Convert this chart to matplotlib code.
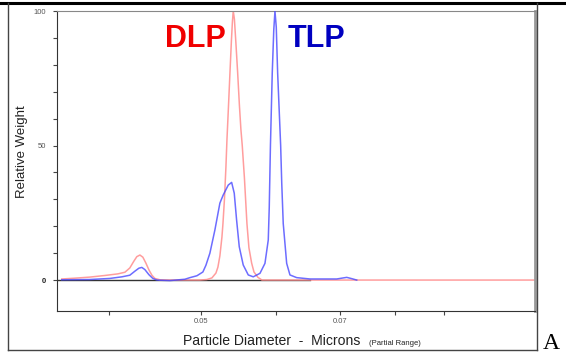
import matplotlib
matplotlib.use('Agg')
import matplotlib.pyplot as plt
from matplotlib.ticker import FixedLocator, FixedFormatter, NullLocator
from matplotlib.lines import Line2D

# particle diameter (microns) and relative weight
dlp_diam = [0.03571, 0.03685, 0.03822, 0.03963, 0.04090, 0.04160, 0.04210, 0.04251,
            0.04282, 0.04314, 0.04345, 0.04377, 0.04409, 0.04441, 0.04473, 0.04528,
            0.04638, 0.04988, 0.05073, 0.05135, 0.05185, 0.05210, 0.05235, 0.05261,
            0.05274, 0.05293, 0.05312, 0.05325, 0.05344, 0.05364, 0.05383, 0.05396,
            0.05407, 0.05422, 0.05442, 0.05465, 0.05488, 0.05508, 0.05526, 0.05555,
            0.05589, 0.05616, 0.05653, 0.05685, 0.05740, 0.05796, 0.1123]
dlp_weight = [0.4, 0.7, 1.1, 1.7, 2.3, 2.9, 4.5, 7.0,
              8.7, 9.3, 8.5, 6.3, 3.8, 1.8, 0.6, 0.1,
              0, 0, 0.2, 0.8, 2.6, 4.8, 9.0, 16,
              21, 30, 42, 52, 64, 77, 89, 96,
              100, 97, 88, 77, 65, 56, 50, 38,
              21, 12, 6.3, 3.0, 1.0, 0, 0]

tlp_diam = [0.03571, 0.03822, 0.04011, 0.04130, 0.04210, 0.04262, 0.04303, 0.04334,
            0.04366, 0.04409, 0.04451, 0.04495, 0.04638, 0.04810, 0.04869, 0.04952,
            0.05024, 0.05061, 0.05110, 0.05172, 0.05235, 0.05277, 0.05342, 0.05386,
            0.05420, 0.05451, 0.05486, 0.05539, 0.05607, 0.05675, 0.05768, 0.05838,
            0.05885, 0.05899, 0.05916, 0.05942, 0.05964, 0.05981, 0.06000, 0.06020,
            0.06064, 0.06080, 0.06102, 0.06153, 0.06202, 0.06304, 0.0651, 0.06945,
            0.07115, 0.07207, 0.07289]
tlp_weight = [0.1, 0.2, 0.6, 1.2, 1.8, 3.3, 4.4, 4.7,
              3.9, 2.0, 0.6, 0, -0.2, 0.3, 0.9, 1.6,
              3.0, 5.5, 10, 18.6, 28.6, 31.6, 35.3, 36.3,
              32.3, 22.3, 12.4, 5.6, 1.9, 1.2, 2.5, 6.2,
              14.9, 27, 50, 77, 93, 100, 94, 77,
              50, 36, 21, 6.2, 1.9, 0.9, 0.4, 0.4,
              1.0, 0.5, 0]

x_ticks = [0.04, 0.05, 0.06, 0.07, 0.08, 0.09]
x_labels = ['', '0.05', '', '0.07', '', '']
y_ticks = [0, 10, 20, 30, 40, 50, 60, 70, 80, 90, 100]
y_labels = ['0', '', '', '', '', '50', '', '', '', '', '100']

W, H = 566, 355
fig = plt.figure(figsize=(W / 100, H / 100), dpi=100)
plt.rcParams['font.family'] = ['Liberation Sans', 'DejaVu Sans']

ax = fig.add_axes([57 / W, 1 - 311 / H, (535 - 57) / W, (311 - 11) / H])
ax.set_xscale('log')
ax.set_xlim(0.0353, 0.1122)
ax.set_ylim(-11.5, 100)

# zero baseline
ax.plot([0.0353, 0.0651], [0, 0], color='#333333', lw=1.0, zorder=1)
ax.plot(dlp_diam, dlp_weight, color='#ff8c8c', lw=1.1, alpha=0.85, zorder=2)
ax.plot(tlp_diam, tlp_weight, color='#4848ff', lw=1.1, alpha=0.8, zorder=3)

ax.xaxis.set_major_locator(FixedLocator(x_ticks))
ax.xaxis.set_major_formatter(FixedFormatter(x_labels))
ax.xaxis.set_minor_locator(NullLocator())
ax.yaxis.set_major_locator(FixedLocator(y_ticks))
ax.yaxis.set_major_formatter(FixedFormatter(y_labels))
ax.tick_params(axis='both', direction='out', length=3, width=0.8, color='#444444',
               labelsize=5.5, labelcolor='#555555')
ax.tick_params(axis='y', pad=5)
ax.tick_params(axis='x', pad=2)
for lbl in ax.get_yticklabels():
    if lbl.get_text() == '0':
        lbl.set_color('#222222')
        lbl.set_fontweight('bold')

ax.spines['left'].set_color('#333333')
ax.spines['bottom'].set_color('#333333')
ax.spines['top'].set_color('#888888')
ax.spines['right'].set_color('#999999')
ax.spines['right'].set_linewidth(2)

ax.text(165 / W, 1 - 47 / H, 'DLP', transform=fig.transFigure, color='#f00000',
        fontsize=22, fontweight='bold', va='baseline', ha='left')
ax.text(288 / W, 1 - 47 / H, 'TLP', transform=fig.transFigure, color='#0000c0',
        fontsize=22, fontweight='bold', va='baseline', ha='left')

fig.text(22 / W, 1 - 152 / H, 'Relative Weight', rotation=90, fontsize=9.5,
         color='#222222', ha='center', va='center')
fig.text(183 / W, 1 - 345 / H, 'Particle Diameter  -  Microns', fontsize=10.1,
         color='#222222', ha='left', va='baseline')
fig.text(369 / W, 1 - 345 / H, '(Partial Range)', fontsize=5.5,
         color='#222222', ha='left', va='baseline')
fig.text(543 / W, 1 - 349 / H, 'A', family='Liberation Serif', fontsize=17,
         color='black', ha='left', va='baseline')

# outer frame
fig.add_artist(Line2D([0, 1], [1 - 3 / H, 1 - 3 / H], color='black', lw=2.2))
fig.add_artist(Line2D([8 / W, 8 / W], [1 - 3 / H, 1 - 350 / H], color='#444444', lw=1))
fig.add_artist(Line2D([537 / W, 537 / W], [1 - 3 / H, 1 - 350 / H], color='#444444', lw=1))
fig.add_artist(Line2D([8 / W, 537 / W], [1 - 350 / H, 1 - 350 / H], color='#444444', lw=1))

plt.savefig('out.png', dpi=100)
